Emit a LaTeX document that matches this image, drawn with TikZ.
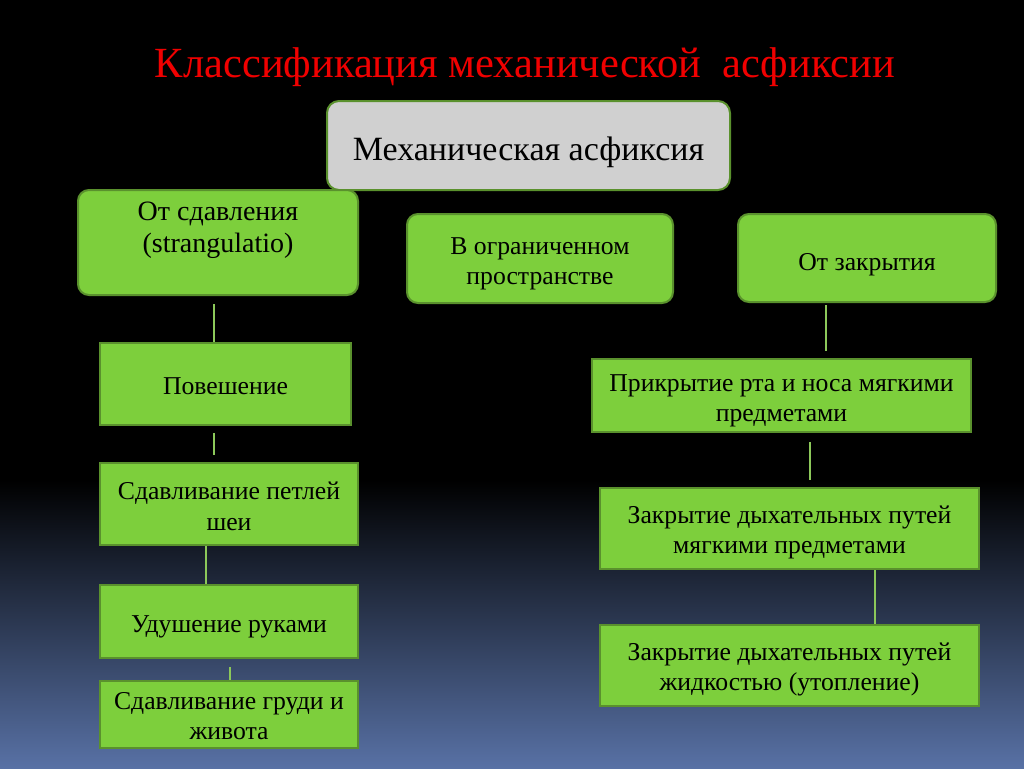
\documentclass[tikz,border=0pt]{standalone}
\usepackage{fontspec}
\setmainfont{Liberation Serif}
\usetikzlibrary{calc}
\definecolor{boxgreen}{RGB}{125,207,60}
\definecolor{bordergreen}{RGB}{90,145,45}
\definecolor{linegreen}{RGB}{140,200,90}
\definecolor{boxgray}{RGB}{208,208,208}
\definecolor{bgbot}{RGB}{88,113,165}
\definecolor{titlered}{RGB}{240,0,0}
\newcommand\boxtext[2][-5pt]{\raisebox{#1}[\height][\depth]{\begin{tabular}{@{}c@{}}#2\end{tabular}}}
\tikzset{
  base/.style={align=center, text=black, inner sep=0pt, font=\fontsize{25.7}{30.5}\selectfont},
  rbox/.style={base, rounded corners=11pt, fill=boxgreen, draw=bordergreen, line width=2pt},
  sbox/.style={base, fill=boxgreen, draw=bordergreen, line width=1.5pt},
  gbox/.style={base, rounded corners=12pt, fill=boxgray, draw=bordergreen, line width=2pt},
  conn/.style={draw=linegreen, line width=1.5pt},
  dim/.style 2 args={minimum width=#1pt, minimum height=#2pt}
}
\begin{document}
\begin{tikzpicture}[x=1pt,y=-1pt]
\useasboundingbox (0,0) rectangle (1024,768);
\fill[black] (0,0) rectangle (1024,481);
\shade[top color=black, bottom color=bgbot] (0,480) rectangle (1024,768);

\node[anchor=base, text=titlered, font=\fontsize{43}{43}\selectfont] (title) at (525,77.5)
  {\resizebox{740pt}{\height}{Классификация механической\ \ асфиксии}};

\node[gbox, dim={403}{89}, font=\fontsize{34}{38}\selectfont] (mech) at (528.5,145.5) {\boxtext[-7pt]{Механическая асфиксия}};

\node[rbox, dim={280}{105}, font=\fontsize{28}{32}\selectfont] (tl) at (218,242.5)
  {\boxtext[12pt]{От сдавления\\(strangulatio)}};
\node[rbox, dim={266}{89}] (mid) at (540,258.5) {\boxtext{В ограниченном\\пространстве}};
\node[rbox, dim={258}{88}] (tr) at (867,258) {\boxtext[-6pt]{От закрытия}};

\node[sbox, dim={251}{82}] (L1) at (225.5,384) {\boxtext[-4pt]{Повешение}};
\node[sbox, dim={258}{82}] (L2) at (229,504) {\boxtext[-5pt]{Сдавливание петлей\\шеи}};
\node[sbox, dim={258}{73}] (L3) at (229,621.5) {\boxtext[-5pt]{Удушение руками}};
\node[sbox, dim={258}{67}] (L4) at (229,714.5) {\boxtext[-4pt]{Сдавливание груди и\\живота}};

\node[sbox, dim={379}{73}] (R1) at (781.5,395.5) {\boxtext[-5pt]{Прикрытие рта и носа мягкими\\предметами}};
\node[sbox, dim={379}{81}] (R2) at (789.5,528.5) {\boxtext[-4pt]{Закрытие дыхательных путей\\мягкими предметами}};
\node[sbox, dim={379}{81}] (R3) at (789.5,665.5) {\boxtext[-4pt]{Закрытие дыхательных путей\\жидкостью (утопление)}};

\draw[conn] ([xshift=-4pt,yshift=-8pt]tl.south) -- ([xshift=-11.5pt]L1.north);
\draw[conn] ([xshift=-11.5pt,yshift=-7pt]L1.south) -- ([xshift=-15pt,yshift=7pt]L2.north);
\draw[conn] ([xshift=-23pt]L2.south) -- ([xshift=-23pt]L3.north);
\draw[conn] ([xshift=1pt,yshift=-8pt]L3.south) -- ([xshift=1pt]L4.north);

\draw[conn] ([xshift=-41pt,yshift=-2pt]tr.south) -- ([xshift=44.5pt,yshift=7pt]R1.north);
\draw[conn] ([xshift=28.5pt,yshift=-9pt]R1.south) -- ([xshift=20.5pt,yshift=7pt]R2.north);
\draw[conn] ([xshift=85.5pt]R2.south) -- ([xshift=85.5pt]R3.north);
\end{tikzpicture}
\end{document}
